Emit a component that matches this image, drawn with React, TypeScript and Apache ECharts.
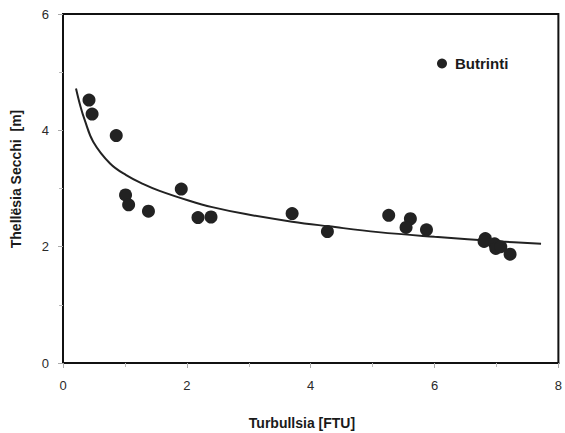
import React, { useEffect, useRef } from "react";
import * as echarts from "echarts";

const turbidity = [0.42, 0.47, 0.86, 1.01, 1.06, 1.38, 1.91, 2.18, 2.39, 3.70, 4.27, 5.26, 5.61, 5.54, 5.87, 6.82, 6.80, 6.97, 6.99, 7.07, 7.22];
const secchi = [4.52, 4.28, 3.91, 2.89, 2.72, 2.61, 2.99, 2.50, 2.51, 2.57, 2.26, 2.54, 2.48, 2.33, 2.29, 2.14, 2.09, 2.05, 1.97, 2.00, 1.87];

const trendX = [0.21, 0.28, 0.35, 0.49, 0.76, 1.02, 1.29, 1.56, 2.04, 2.41, 2.95, 3.70, 4.29, 5.09, 6.0, 7.07, 7.72];
const trendY = [4.72, 4.42, 4.18, 3.80, 3.43, 3.23, 3.08, 2.96, 2.79, 2.68, 2.56, 2.43, 2.35, 2.25, 2.17, 2.09, 2.05];

const xTicks = [0, 2, 4, 6, 8];
const yTicks = [0, 2, 4, 6];

const seriesName = "Butrinti";
const xName = "Turbullsia [FTU]";
const yName = "Thellësia Secchi  [m]";

const FONT = "'Liberation Sans', Arial, sans-serif";

export default function App() {
  const ref = useRef<HTMLDivElement>(null);
  useEffect(() => {
    if (!ref.current) return;
    const chart = echarts.init(ref.current, undefined, { renderer: "svg" });
    const axisCommon = {
      axisLine: { show: true, lineStyle: { color: "#111", width: 2 } },
      axisTick: { show: true, length: 5, lineStyle: { color: "#aaa", width: 1 } },
      minorTick: { show: true, splitNumber: 2, length: 4, lineStyle: { color: "#bbb", width: 1 } },
      splitLine: { show: false },
      axisLabel: { color: "#2a2a2a", fontSize: 13, fontFamily: FONT },
    };
    chart.setOption({
      animation: false,
      backgroundColor: "#fff",
      textStyle: { fontFamily: FONT },
      grid: {
        left: 63,
        top: 14,
        right: 4,
        bottom: 70,
        show: true,
        borderColor: "#111",
        borderWidth: 2,
        backgroundColor: "transparent",
      },
      legend: {
        data: [seriesName],
        left: 432,
        top: 51,
        icon: "circle",
        itemWidth: 10,
        itemHeight: 10,
        itemStyle: { opacity: 1 },
        textStyle: { fontSize: 15, fontWeight: "bold", color: "#1a1a1a", fontFamily: FONT, padding: [0, 0, 0, 3] },
      },
      xAxis: {
        type: "value",
        min: xTicks[0],
        max: xTicks[xTicks.length - 1],
        interval: 2,
        ...axisCommon,
        axisLabel: { ...axisCommon.axisLabel, margin: 16 },
      },
      yAxis: {
        type: "value",
        min: yTicks[0],
        max: yTicks[yTicks.length - 1],
        interval: 2,
        ...axisCommon,
        axisLabel: { ...axisCommon.axisLabel, margin: 14 },
      },
      graphic: [
        {
          type: "text",
          x: 302,
          y: 423,
          style: {
            text: xName,
            fontSize: 14,
            fontWeight: "bold",
            fill: "#1a1a1a",
            fontFamily: FONT,
            align: "center",
            verticalAlign: "middle",
          },
        },
        {
          type: "text",
          x: 16,
          y: 179,
          rotation: Math.PI / 2,
          style: {
            text: yName,
            fontSize: 14,
            fontWeight: "bold",
            fill: "#1a1a1a",
            fontFamily: FONT,
            align: "center",
            verticalAlign: "middle",
          },
        },
      ],
      series: [
        {
          name: seriesName,
          type: "scatter",
          symbol: "circle",
          symbolSize: 13,
          itemStyle: { color: "#222", opacity: 1 },
          data: turbidity.map((x, i) => [x, secchi[i]]),
          z: 3,
        },
        {
          name: "trend",
          type: "line",
          smooth: 0.4,
          showSymbol: false,
          symbol: "none",
          lineStyle: { color: "#222", width: 2 },
          data: trendX.map((x, i) => [x, trendY[i]]),
          z: 2,
        },
      ],
    });
    return () => chart.dispose();
  }, []);
  return <div ref={ref} style={{ width: 565, height: 433, position: "absolute", left: 0, top: 0 }} />;
}
